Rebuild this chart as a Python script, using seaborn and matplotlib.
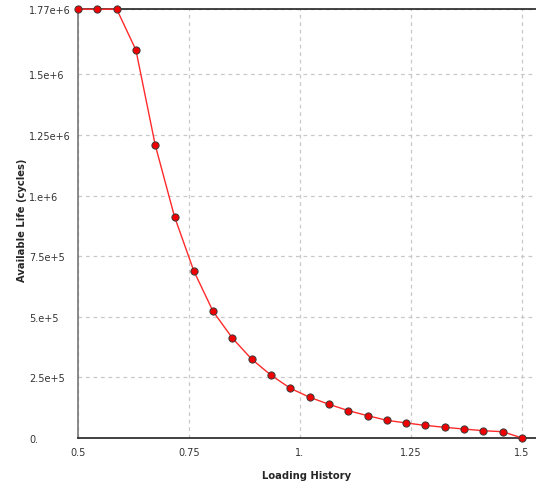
import numpy as np
import pandas as pd
import matplotlib
matplotlib.use("Agg")
import matplotlib.pyplot as plt
import seaborn as sns

# loading history (24 points from 0.5 to 1.5)
loading = [0.5, 0.5435, 0.587, 0.6304, 0.6739, 0.7174, 0.7609, 0.8043,
           0.8478, 0.8913, 0.9348, 0.9783, 1.0217, 1.0652, 1.1087, 1.1522,
           1.1957, 1.2391, 1.2826, 1.3261, 1.3696, 1.413, 1.4565, 1.5]
life = [1.77e6, 1.768e6, 1.77e6, 1.601e6, 1.209e6, 9.13e5, 6.89e5, 5.22e5,
        4.12e5, 3.25e5, 2.59e5, 2.05e5, 1.68e5, 1.39e5, 1.13e5, 9.2e4,
        7.3e4, 6.2e4, 5.2e4, 4.4e4, 3.7e4, 3.0e4, 2.6e4, 0.0]

y_ticks = [0, 2.5e5, 5e5, 7.5e5, 1e6, 1.25e6, 1.5e6, 1.77e6]
y_labels = ["0.", "2.5e+5", "5.e+5", "7.5e+5", "1.e+6", "1.25e+6", "1.5e+6", "1.77e+6"]
x_ticks = [0.5, 0.75, 1.0, 1.25, 1.5]
x_labels = ["0.5", "0.75", "1.", "1.25", "1.5"]

df = pd.DataFrame({"Loading History": loading, "Available Life (cycles)": life})

sns.set_style("white")
plt.rcParams["font.family"] = ["DejaVu Sans"]

W, H = 536, 485
fig = plt.figure(figsize=(W / 100, H / 100), dpi=100)
ax = fig.add_axes([78 / W, 46 / H, 1 - 78 / W, 429 / H])

sns.lineplot(data=df, x="Loading History", y="Available Life (cycles)", ax=ax,
             color="#ff2a2a", linewidth=1.0, marker="o", markersize=5.2,
             markerfacecolor="#f00000", markeredgecolor="#3a3a3a",
             markeredgewidth=0.7, zorder=3, clip_on=False)

ax.set_xlim(0.5, 1.5315)
ax.set_ylim(0, 1.77e6)

ax.set_xticks(x_ticks)
ax.set_xticklabels(x_labels)
ax.set_yticks(y_ticks)
ax.set_yticklabels(y_labels)

ax.grid(True, color="#c8c8c8", linestyle=(0, (3, 3)), linewidth=0.9)
ax.set_axisbelow(True)

ax.tick_params(axis="both", labelsize=7, labelcolor="#333333", length=3.6,
               width=0.8, direction="out", color="#aaaaaa")
ax.tick_params(axis="x", pad=3)
ax.tick_params(axis="y", pad=31.7)
for lab in ax.get_yticklabels():
    lab.set_horizontalalignment("left")

ax.spines["right"].set_visible(False)
ax.spines["left"].set_color("#777777")
ax.spines["left"].set_linewidth(1.2)
ax.spines["bottom"].set_color("#222222")
ax.spines["bottom"].set_linewidth(1.2)
ax.spines["top"].set_color("#222222")
ax.spines["top"].set_linewidth(1.2)

ax.set_xlabel("Loading History", fontsize=7.2, fontweight="bold")
ax.set_ylabel("Available Life (cycles)", fontsize=7.2, fontweight="bold")
ax.xaxis.set_label_coords(0.5, -(471 - 439) / 429)
ax.yaxis.set_label_coords(-(78 - 27) / 458, (439 - 220) / 429)

fig.savefig("out.png", dpi=100)
